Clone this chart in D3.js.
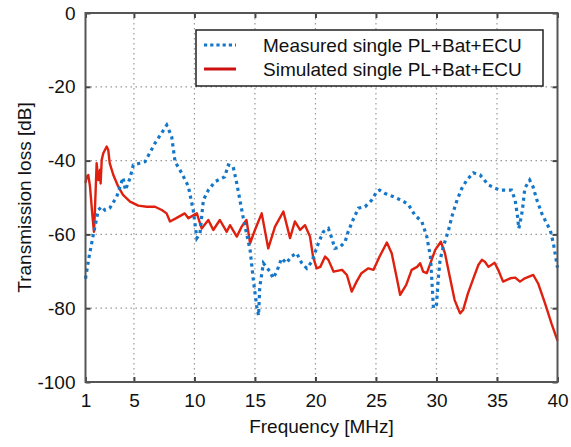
<!DOCTYPE html>
<html>
<head>
<meta charset="utf-8">
<script src="https://cdn.jsdelivr.net/npm/d3@7"></script>
<style>
body { margin: 0; background: #fff; }
text { font-family: "Liberation Sans", Arial, sans-serif; fill: #111; }
.grid line { stroke: #999; stroke-dasharray: 1.5,3.5; stroke-width: 1.2; }
</style>
</head>
<body>
<svg width="571" height="447"></svg>
<script>

// measured (blue dotted) - frequency MHz / loss dB
var measFreq = [1, 1.3, 1.65, 2.06, 2.34, 2.6, 3.0, 3.58, 4.1, 4.3, 4.68, 4.95, 5.92, 6.74, 7.71, 8.12, 8.4, 8.95, 9.5, 9.9, 10.2, 10.46, 10.74, 11.15, 11.7, 12.5, 12.8, 13.2, 13.5, 14.04, 14.6, 14.87, 15.15, 15.3, 15.4, 15.7, 16.25, 16.5, 16.8, 17.2, 17.6, 18.0, 18.45, 18.87, 19.28, 19.7, 20.24, 20.65, 21.07, 21.35, 21.6, 22.0, 22.45, 22.7, 23.1, 23.55, 24.1, 24.65, 25.07, 25.3, 25.75, 26.6, 27.3, 27.7, 28.2, 28.8, 29.2, 29.5, 29.62, 29.75, 30.0, 30.16, 30.3, 30.57, 31.0, 31.27, 31.7, 32.1, 32.5, 33.05, 33.6, 34.3, 34.85, 35.26, 35.8, 36.2, 36.5, 36.7, 36.8, 36.9, 37.1, 37.3, 37.7, 37.97, 38.3, 38.7, 39.1, 39.4, 39.66, 40];
var measLoss = [-72, -66, -60, -53.4, -52.5, -53.4, -52.9, -49.8, -44.6, -48, -44.7, -41.2, -40.3, -35.3, -30.4, -33.5, -40.3, -43.4, -47, -53.4, -61, -59.7, -50.7, -48, -45.7, -44.4, -41.2, -41.6, -46.2, -55.6, -64.2, -72.4, -79.6, -82, -74.2, -67.8, -70.1, -71.9, -70.1, -66.5, -67.8, -66, -65.1, -67.8, -69.2, -67.4, -62.4, -59.3, -58.4, -61, -63.8, -63.5, -62, -59.3, -56.1, -52.9, -52.5, -50.7, -48.4, -48, -48.9, -50, -51.1, -52, -54.7, -56.6, -60.6, -66, -72.4, -80, -79, -71.5, -66.9, -63.3, -58.8, -55.2, -50.7, -47.5, -45.3, -43.3, -43.9, -46.6, -47.5, -48, -48, -48, -50.7, -55.2, -58.4, -57, -53.4, -47.5, -45.3, -47, -50.7, -54.3, -57, -58.8, -62.4, -69];

// simulated (red solid)
var simFreq = [1, 1.1, 1.23, 1.37, 1.6, 1.7, 1.78, 1.92, 2.06, 2.2, 2.25, 2.34, 2.47, 2.75, 2.88, 3.0, 3.3, 3.7, 4.1, 4.68, 5.36, 6.06, 6.74, 7.3, 7.7, 7.98, 8.5, 9.2, 9.5, 10.2, 10.6, 11.15, 11.56, 12.1, 12.67, 12.94, 13.5, 13.9, 14.3, 14.6, 15.0, 15.56, 16.1, 16.66, 17.35, 17.9, 18.3, 18.73, 19.14, 19.55, 19.8, 20.1, 20.4, 20.8, 21.07, 21.5, 22.2, 22.6, 23.0, 23.4, 23.8, 24.37, 24.8, 25.3, 25.9, 26.3, 26.7, 27.0, 27.5, 27.95, 28.4, 28.65, 28.9, 29.2, 29.6, 29.9, 30.36, 30.7, 31.1, 31.5, 31.95, 32.2, 32.6, 33.05, 33.46, 33.75, 34.0, 34.3, 34.8, 35.1, 35.5, 36.1, 36.5, 36.9, 37.3, 38.0, 38.4, 38.97, 39.5, 40];
var simLoss = [-46, -44.4, -43.9, -47, -56, -59.3, -53.4, -40.7, -45.3, -42.5, -46.2, -39.8, -38, -36.2, -37.1, -40.7, -43.9, -47, -49.3, -51.1, -52.2, -52.5, -52.5, -53.4, -54.3, -56.5, -55.6, -54.3, -55.6, -54.3, -58.4, -56.1, -58.8, -56.1, -59.3, -57.5, -60.6, -57.9, -56.1, -62.4, -58.8, -54.3, -63.8, -57.9, -53.8, -61, -56.5, -58.8, -57.5, -60.6, -66, -69.2, -68.8, -66, -66.9, -70.1, -69.6, -71, -75.5, -72.8, -70.5, -69.2, -69.6, -66, -62.2, -65.1, -71.5, -76.4, -73.7, -69.6, -68.8, -67.8, -70.1, -70.5, -66.9, -64.2, -62, -65.1, -71.5, -77.8, -81.4, -80.5, -76, -71.9, -68.3, -66.9, -67.4, -68.8, -67.7, -69.6, -72.8, -71.9, -71.7, -72.8, -71.9, -71, -73.3, -78.7, -84.1, -88.8];

var xTicks = [1, 5, 10, 15, 20, 25, 30, 35, 40];
var yTicks = [0, -20, -40, -60, -80, -100];
var legendNames = ["Measured single PL+Bat+ECU", "Simulated single PL+Bat+ECU"];

var blue = "#1577c9", red = "#e0200f";

var svg = d3.select("svg");
var mLeft = 85.5, mRight = 557.5, mTop = 13, mBottom = 382;

var x = d3.scaleLinear().domain([1, 40]).range([mLeft, mRight]);
var y = d3.scaleLinear().domain([-100, 0]).range([mBottom, mTop]);

// grid
var grid = svg.append("g").attr("class", "grid");
grid.selectAll(".gx").data(xTicks.slice(1, -1)).enter().append("line")
	.attr("x1", function(d) { return x(d); }).attr("x2", function(d) { return x(d); })
	.attr("y1", mTop).attr("y2", mBottom);
grid.selectAll(".gy").data(yTicks.slice(1, -1)).enter().append("line")
	.attr("x1", mLeft).attr("x2", mRight)
	.attr("y1", function(d) { return y(d); }).attr("y2", function(d) { return y(d); });

// series
var line = d3.line()
	.x(function(d) { return x(d[0]); })
	.y(function(d) { return y(d[1]); });

svg.append("path")
	.datum(d3.zip(simFreq, simLoss))
	.attr("d", line)
	.attr("fill", "none")
	.attr("stroke", red)
	.attr("stroke-width", 2.4)
	.attr("stroke-linejoin", "round");

svg.append("path")
	.datum(d3.zip(measFreq, measLoss))
	.attr("d", line)
	.attr("fill", "none")
	.attr("stroke", blue)
	.attr("stroke-width", 3.2)
	.attr("stroke-dasharray", "3.2,3.8");

// axes: ticks inward, on all four sides
var tickLen = 5;
function styleTicks(g) {
	g.select(".domain").remove();
	g.selectAll("line").attr("stroke", "#444").attr("stroke-width", 2);
	g.selectAll("text").attr("font-size", "19px").attr("font-family", "Liberation Sans, Arial, sans-serif").attr("fill", "#111");
}
var plain = function(d) { return String(d); };
svg.append("g").attr("transform", "translate(0," + mBottom + ")")
	.call(d3.axisBottom(x).tickValues(xTicks).tickSize(-tickLen).tickPadding(12).tickFormat(plain))
	.call(styleTicks);
svg.append("g").attr("transform", "translate(0," + mTop + ")")
	.call(d3.axisTop(x).tickValues(xTicks).tickSize(-tickLen).tickFormat(""))
	.call(styleTicks);
svg.append("g").attr("transform", "translate(" + mLeft + ",0)")
	.call(d3.axisLeft(y).tickValues(yTicks).tickSize(-tickLen).tickPadding(10).tickFormat(plain))
	.call(styleTicks);
svg.append("g").attr("transform", "translate(" + mRight + ",0)")
	.call(d3.axisRight(y).tickValues(yTicks).tickSize(-tickLen).tickFormat(""))
	.call(styleTicks);

// frame
svg.append("rect")
	.attr("x", mLeft).attr("y", mTop)
	.attr("width", mRight - mLeft).attr("height", mBottom - mTop)
	.attr("fill", "none").attr("stroke", "#555").attr("stroke-width", 2);

// axis labels
svg.append("text")
	.attr("x", (mLeft + mRight) / 2).attr("y", 433)
	.attr("text-anchor", "middle").attr("font-size", "19px")
	.text("Frequency [MHz]");
svg.append("text")
	.attr("transform", "translate(31," + ((mTop + mBottom) / 2) + ") rotate(-90)")
	.attr("text-anchor", "middle").attr("font-size", "19px")
	.text("Transmission loss [dB]");

// legend
var lg = svg.append("g");
lg.append("rect")
	.attr("x", 196).attr("y", 30).attr("width", 347).attr("height", 56)
	.attr("fill", "#fff").attr("stroke", "#222").attr("stroke-width", 1.5);
lg.append("line")
	.attr("x1", 204).attr("x2", 236).attr("y1", 45).attr("y2", 45)
	.attr("stroke", blue).attr("stroke-width", 3.2).attr("stroke-dasharray", "3.2,3");
lg.append("line")
	.attr("x1", 204).attr("x2", 236).attr("y1", 69).attr("y2", 69)
	.attr("stroke", "#cc1010").attr("stroke-width", 3);
lg.selectAll(".lt").data(legendNames).enter().append("text")
	.attr("x", 263)
	.attr("y", function(d, i) { return 52 + i * 24; })
	.attr("font-size", "19px")
	.text(function(d) { return d; });

</script>
</body>
</html>
